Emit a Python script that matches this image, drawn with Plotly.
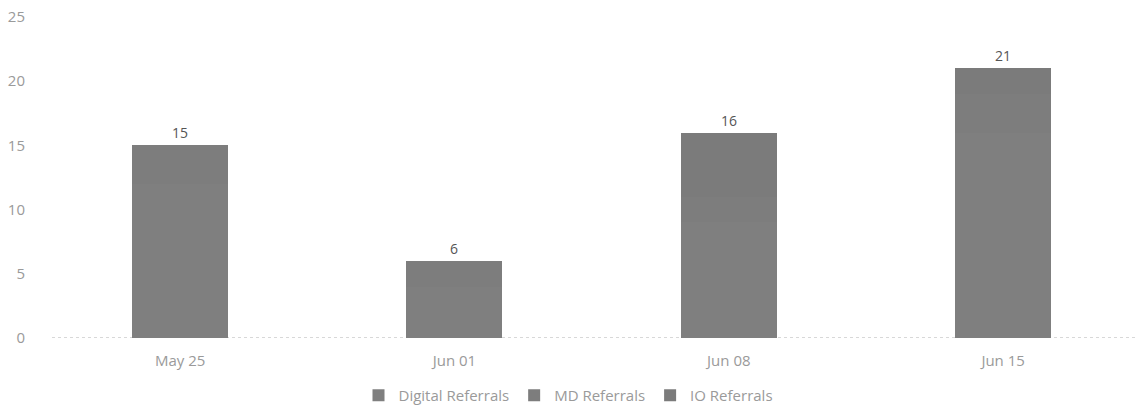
import plotly.graph_objects as go

categories = ["May 25", "Jun 01", "Jun 08", "Jun 15"]
digital = [12, 4, 9, 16]
md = [3, 2, 2, 3]
io = [0, 0, 5, 2]
series_names = ["Digital Referrals", "MD Referrals", "IO Referrals"]
series_colors = ["#7f7f7f", "#7d7d7d", "#7b7b7b"]
totals = [d + m + i for d, m, i in zip(digital, md, io)]
y_ticks = [0, 5, 10, 15, 20, 25]

fig = go.Figure()
for name, vals, col in zip(series_names, [digital, md, io], series_colors):
    fig.add_trace(go.Bar(x=categories, y=vals, name=name, marker_color=col,
                         marker_line_width=0))

for c, t in zip(categories, totals):
    fig.add_annotation(x=c, y=t, text=str(t), showarrow=False, yanchor="bottom",
                       yshift=1, font=dict(size=14, color="#555555"))

fig.add_shape(type="line", xref="paper", yref="y", x0=0, x1=1, y0=0, y1=0,
              line=dict(color="#b0b0b0", width=1, dash="dot"), layer="below")

fig.update_layout(
    width=1137, height=411,
    margin=dict(l=52, r=0, t=17, b=73),
    barmode="stack", bargap=0.65,
    plot_bgcolor="white", paper_bgcolor="white",
    font=dict(family="Open Sans", size=15, color="#9a9a9a"),
    showlegend=True,
    legend=dict(orientation="h", x=0.5, xanchor="center", xref="container",
                y=0.038, yanchor="middle", yref="container",
                font=dict(size=15, color="#9a9a9a"), itemwidth=30,
                traceorder="normal"),
    xaxis=dict(type="category", range=[-0.467, 3.488], showgrid=False,
               showline=False, ticks="", ticklabelstandoff=12,
               tickfont=dict(size=15, color="#9a9a9a")),
    yaxis=dict(range=[0, 25], tickvals=y_ticks, showgrid=False, zeroline=False,
               showline=False, ticklabelstandoff=26,
               tickfont=dict(size=15, color="#9a9a9a")),
)

fig.write_html("out.html")
